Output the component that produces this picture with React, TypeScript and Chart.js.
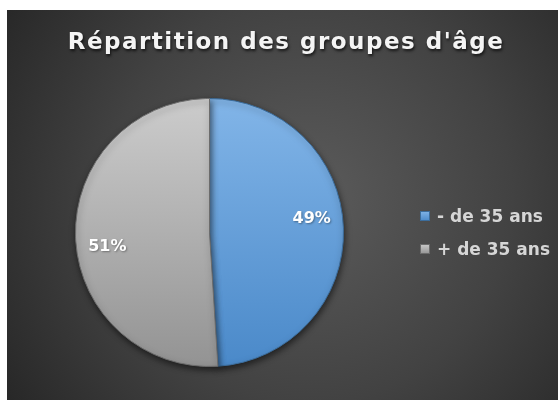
import { useEffect, useRef } from "react";
import { Chart, registerables } from "chart.js";

Chart.register(...registerables);

const chartTitle = "Répartition des groupes d'âge";
const categories = ["- de 35 ans", "+ de 35 ans"];
const shares = [49, 51];

const sliceTop = ["#82b5e8", "#cccccc"];
const sliceBottom = ["#4a89c9", "#939393"];
const sliceBorder = ["#3c6d9c", "#6c6c6c"];

const W = 558;
const H = 400;

const panelPlugin = {
  id: "panel",
  beforeDraw(chart: any) {
    const ctx = chart.ctx;
    ctx.save();
    ctx.fillStyle = "#ffffff";
    ctx.fillRect(0, 0, W, H);
    const g = ctx.createRadialGradient(310, 200, 10, 310, 200, 360);
    g.addColorStop(0, "#5a5a5a");
    g.addColorStop(0.55, "#424242");
    g.addColorStop(1, "#282828");
    ctx.fillStyle = g;
    ctx.fillRect(7, 10, W - 7, H - 10);
    ctx.restore();
  },
  beforeDatasetsDraw(chart: any) {
    const ctx = chart.ctx;
    ctx.save();
    ctx.shadowColor = "rgba(0,0,0,0.55)";
    ctx.shadowBlur = 6;
    ctx.shadowOffsetX = 1;
    ctx.shadowOffsetY = 3;
  },
  afterDatasetsDraw(chart: any) {
    const ctx = chart.ctx;
    ctx.restore();
    // percentage labels
    const meta = chart.getDatasetMeta(0);
    const data = chart.data.datasets[0].data as number[];
    const total = data.reduce((a, b) => a + b, 0);
    ctx.save();
    ctx.font = "bold 16px 'DejaVu Sans'";
    ctx.fillStyle = "#ffffff";
    ctx.textAlign = "center";
    ctx.textBaseline = "middle";
    ctx.shadowColor = "rgba(0,0,0,0.35)";
    ctx.shadowBlur = 2;
    ctx.shadowOffsetX = 1;
    ctx.shadowOffsetY = 1;
    meta.data.forEach((arc: any, i: number) => {
      const p = arc.getProps(["x", "y", "startAngle", "endAngle", "outerRadius"], true);
      const mid = (p.startAngle + p.endAngle) / 2 - (6 * Math.PI) / 180;
      const r = p.outerRadius * 0.77;
      const label = Math.round((data[i] / total) * 100) + "%";
      ctx.fillText(label, p.x + Math.cos(mid) * r, p.y + Math.sin(mid) * r);
    });
    ctx.restore();
  },
  afterDraw(chart: any) {
    const ctx = chart.ctx;
    // title
    ctx.save();
    ctx.font = "bold 23px 'DejaVu Sans'";
    (ctx as any).letterSpacing = "1.5px";
    ctx.fillStyle = "#f4f4f4";
    ctx.textAlign = "center";
    ctx.textBaseline = "alphabetic";
    ctx.shadowColor = "rgba(0,0,0,0.7)";
    ctx.shadowBlur = 3;
    ctx.shadowOffsetX = 1;
    ctx.shadowOffsetY = 2;
    ctx.fillText(chartTitle, 286, 49);
    ctx.restore();

    // legend
    ctx.save();
    ctx.font = "bold 17px 'DejaVu Sans'";
    ctx.textAlign = "left";
    ctx.textBaseline = "alphabetic";
    categories.forEach((name, i) => {
      const yc = 216 + i * 33;
      const g = ctx.createLinearGradient(0, yc - 5, 0, yc + 5);
      g.addColorStop(0, sliceTop[i]);
      g.addColorStop(1, sliceBottom[i]);
      ctx.fillStyle = g;
      ctx.fillRect(420, yc - 5, 10, 10);
      ctx.strokeStyle = sliceBorder[i];
      ctx.lineWidth = 1;
      ctx.strokeRect(420.5, yc - 4.5, 9, 9);
      ctx.fillStyle = "#d6d6d6";
      ctx.fillText(name, 437, yc + 6);
    });
    ctx.restore();
  },
};

export default function App() {
  const ref = useRef<HTMLCanvasElement | null>(null);
  useEffect(() => {
    if (!ref.current) return;
    const chart = new Chart(ref.current, {
      type: "pie",
      data: {
        labels: categories,
        datasets: [
          {
            data: shares,
            backgroundColor: (c: any) => {
              const area = c.chart.chartArea;
              const i = c.dataIndex ?? 0;
              if (!area) return sliceTop[i];
              const g = c.chart.ctx.createLinearGradient(0, area.top, 0, area.bottom);
              g.addColorStop(0, sliceTop[i]);
              g.addColorStop(1, sliceBottom[i]);
              return g;
            },
            borderColor: sliceBorder,
            borderWidth: 1,
          },
        ],
      },
      options: {
        responsive: false,
        animation: false,
        devicePixelRatio: 1,
        layout: { padding: { left: 75, top: 98, right: 214, bottom: 33 } },
        plugins: {
          legend: { display: false },
          title: { display: false },
          tooltip: { enabled: false },
        },
      },
      plugins: [panelPlugin],
    });
    return () => chart.destroy();
  }, []);
  return (
    <div style={{ position: "fixed", left: 0, top: 0, width: W, height: H, background: "#fff" }}>
      <canvas ref={ref} width={W} height={H} style={{ width: W, height: H, display: "block" }} />
    </div>
  );
}
